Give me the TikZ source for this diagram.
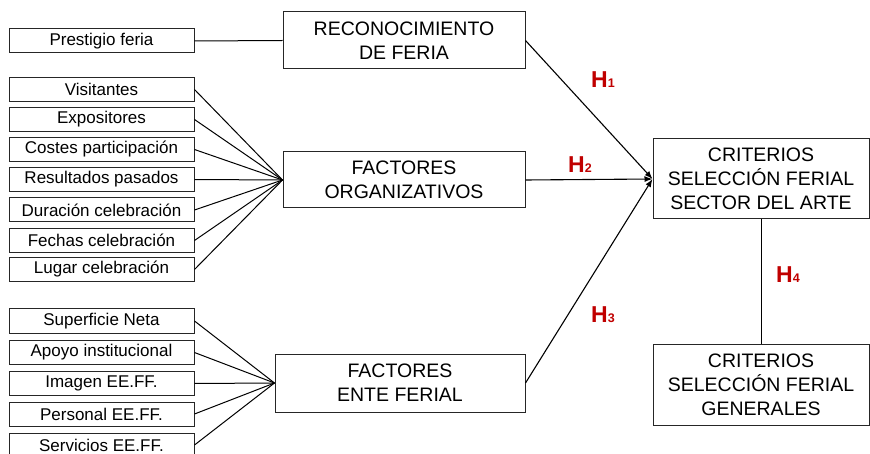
\documentclass[tikz,border=0pt]{standalone}
\usepackage{fontspec}
\setmainfont{Liberation Sans}
\usetikzlibrary{arrows.meta}
\definecolor{hred}{HTML}{C00000}
\begin{document}
\begin{tikzpicture}[x=1pt,y=-1pt,
  box/.style={draw=black!85, line width=1pt, inner sep=0pt, align=center},
  small/.style={box, minimum width=185pt, minimum height=24pt, font=\fontsize{17}{20}\selectfont},
  big/.style={box, font=\fontsize{19.5}{24}\selectfont},
  link/.style={line width=1pt},
  arr/.style={line width=1.1pt, -{Latex[length=8pt,width=6pt]}},
  hlab/.style={text=hred, inner sep=0pt, font=\fontsize{23}{23}\selectfont\bfseries}
]
\clip (0,0) rectangle (870,454);
\fill[white] (0,0) rectangle (870,454);

% left small boxes
\node[small] (pf) at (101.5,41) {Prestigio feria};
\node[small] (v1) at (101.5,89.5) {Visitantes};
\node[small] (v2) at (101.5,119.5) {Expositores};
\node[small] (v3) at (101.5,149.5) {Costes participación};
\node[small] (v4) at (101.5,179.5) {Resultados pasados};
\node[small] (v5) at (101.5,210) {Duración celebración};
\node[small] (v6) at (101.5,240.5) {Fechas celebración};
\node[small] (v7) at (101.5,269.5) {Lugar celebración};
\node[small] (e1) at (101.5,321) {Superficie Neta};
\node[small] (e2) at (101.5,352.5) {Apoyo institucional};
\node[small] (e3) at (101.5,383.5) {Imagen EE.FF.};
\node[small] (e4) at (101.5,414) {Personal EE.FF.};
\node[small] (e5) at (101.5,445) {Servicios EE.FF.};

% middle boxes
\node[big, minimum width=242pt, minimum height=57pt] (rec) at (404,40.5) {RECONOCIMIENTO\\DE FERIA};
\node[big, minimum width=242pt, minimum height=56pt] (org) at (404,180) {FACTORES\\ORGANIZATIVOS};
\node[big, minimum width=250pt, minimum height=58pt] (ente) at (400,383) {FACTORES\\ENTE FERIAL};

% right boxes
\node[big, minimum width=216pt, minimum height=80pt] (crit) at (761,179) {CRITERIOS\\SELECCIÓN FERIAL\\SECTOR DEL ARTE};
\node[big, minimum width=216pt, minimum height=81pt] (gen) at (761,384.5) {CRITERIOS\\SELECCIÓN FERIAL\\GENERALES};

% connectors
\draw[link] (pf.east) -- (rec.west);
\foreach \n in {v1,v2,v3,v4,v5,v6,v7} \draw[link] (\n.east) -- (org.west);
\foreach \n in {e1,e2,e3,e4,e5} \draw[link] (\n.east) -- (ente.west);

\draw[arr] (rec.east) -- (crit.west);
\draw[arr] (org.east) -- (crit.west);
\draw[arr] (ente.east) -- (crit.west);
\draw[link] (crit.south) -- (gen.north);

% labels
\node[hlab] (h1) at (603,80) {H\fontsize{12.5}{12.5}\selectfont 1};
\node[hlab] (h2) at (580,165) {H\fontsize{12.5}{12.5}\selectfont 2};
\node[hlab] (h3) at (603,315) {H\fontsize{12.5}{12.5}\selectfont 3};
\node[hlab] (h4) at (788,275) {H\fontsize{12.5}{12.5}\selectfont 4};
\end{tikzpicture}
\end{document}
